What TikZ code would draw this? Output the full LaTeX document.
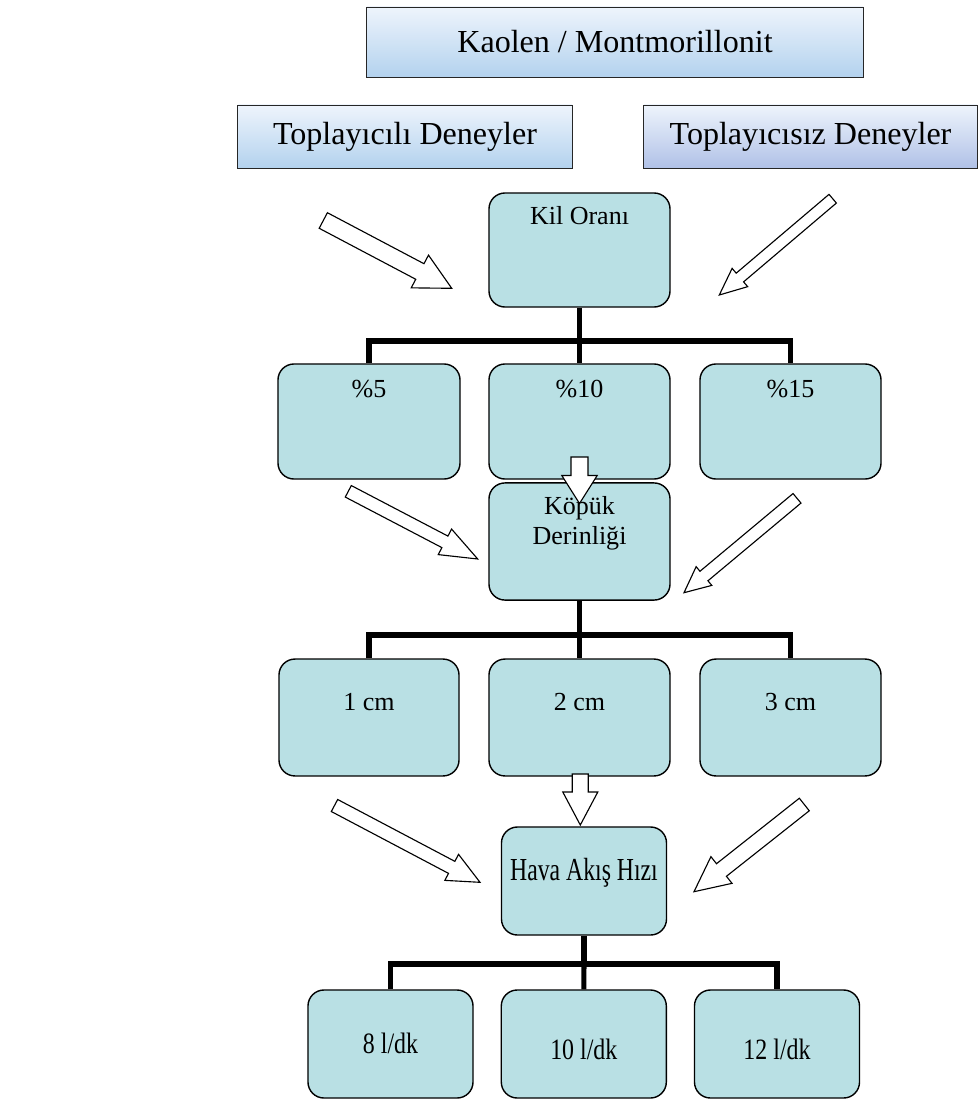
\documentclass[tikz,border=0pt]{standalone}
\usepackage{fontspec}
\setmainfont{Liberation Serif}
\usepackage{graphicx}
\usetikzlibrary{calc}
\definecolor{ClayTeal}{HTML}{B9E0E4}
\definecolor{SkyTop}{HTML}{EEF4FC}
\definecolor{SkyBottom}{HTML}{B3D2EE}
\definecolor{LilacBottom}{HTML}{B0C1E7}
\newcommand{\blockarrow}[5]{%
  \coordinate (neck) at ($(#2)!#5!(#1)$);
  \draw[hollow] ($(#1)!#3!90:(#2)$) -- ($(neck)!#3!90:(#2)$) -- ($(neck)!#4!90:(#2)$) -- (#2)
    -- ($(neck)!#4!-90:(#2)$) -- ($(neck)!#3!-90:(#2)$) -- ($(#1)!#3!-90:(#2)$) -- cycle;}

\begin{document}
\begin{tikzpicture}[x=0.025cm, y=-0.025cm,
  head/.style={draw=black!85, line width=0.7pt, top color=SkyTop, bottom color=SkyBottom,
               inner sep=0pt, minimum height=1.575cm, font=\fontsize{22.8}{26}\selectfont},
  box/.style={draw, line width=1pt, rounded corners=0.4cm, fill=ClayTeal,
              inner sep=0pt, font=\fontsize{18.5}{21.3}\selectfont},
  slim/.style={font=\fontsize{21}{24}\selectfont},
  trunk/.style={line width=3.6pt},
  hollow/.style={draw, fill=white, line width=0.8pt, line join=miter}]
  \useasboundingbox (0,0) rectangle (979,1099);

  \node[head, minimum width=12.4cm, minimum height=1.75cm] (clay) at (615,42) {Kaolen / Montmorillonit};
  \node[head, minimum width=8.35cm] (with) at (405,136.5) {Toplayıcılı Deneyler};
  \node[head, minimum width=8.325cm, bottom color=LilacBottom] (without) at (810.5,136.5) {Toplayıcısız Deneyler};

  \node[box, minimum width=4.525cm, text height=0.8cm, text depth=2.05cm] (kil) at (579.5,250) {Kil Oranı};
  \node[box, minimum width=4.55cm, text height=0.825cm, text depth=2.05cm] (p5) at (369,421.5) {\%5};
  \node[box, minimum width=4.525cm, text height=0.825cm, text depth=2.05cm] (p10) at (579.5,421.5) {\%10};
  \node[box, minimum width=4.525cm, text height=0.825cm, text depth=2.05cm] (p15) at (790.5,421.5) {\%15};

  \node[box, minimum width=4.525cm, text height=0.79cm, text depth=2.1375cm] (foam) at (579.5,541.5)
    {\begin{tabular}[t]{@{}c@{}}Köpük\\Derinliği\end{tabular}};
  \node[box, minimum width=4.5cm, text height=1.29cm, text depth=1.6325cm] (cm1) at (369,717.5) {1 cm};
  \node[box, minimum width=4.525cm, text height=1.29cm, text depth=1.6325cm] (cm2) at (579.5,717.5) {2 cm};
  \node[box, minimum width=4.525cm, text height=1.29cm, text depth=1.6325cm] (cm3) at (790.5,717.5) {3 cm};

  \node[box, minimum width=4.125cm, text height=1.325cm, text depth=1.375cm] (air) at (584,881)
    {\fontsize{22.8}{26}\selectfont\scalebox{0.74}[1]{Hava Akış Hızı}};
  \node[box, slim, minimum width=4.125cm, text height=1.575cm, text depth=1.125cm] (l8) at (390.5,1044) {\scalebox{0.81}[1]{8 l/dk}};
  \node[box, slim, minimum width=4.125cm, text height=1.725cm, text depth=0.975cm] (l10) at (583.8,1044) {\scalebox{0.81}[1]{10 l/dk}};
  \node[box, slim, minimum width=4.125cm, text height=1.725cm, text depth=0.975cm] (l12) at (777,1044) {\scalebox{0.81}[1]{12 l/dk}};

  \coordinate (b1) at (579.5,341);
  \coordinate (b2) at (579.5,635);
  \coordinate (b3) at (584,964);
  \draw[trunk] (kil.south) -- (b1);
  \draw[trunk] (p5.north) |- (b1) -| (p15.north);
  \draw[trunk] (b1) -- (p10.north);
  \draw[trunk] (foam.south) -- (b2);
  \draw[trunk] (cm1.north) |- (b2) -| (cm3.north);
  \draw[trunk] (b2) -- (cm2.north);
  \draw[trunk] (air.south) -- (b3);
  \draw[trunk] (l8.north) |- (b3) -| (l12.north);
  \draw[trunk] (b3) -- (l10.north);

  \coordinate (a1s) at (323.3,220.5);  \coordinate (a1e) at (451.7,288.3);
  \coordinate (a2s) at (832.7,198.7);  \coordinate (a2e) at (719.3,295);
  \coordinate (a3s) at (348.3,491.3);  \coordinate (a3e) at (477.7,559);
  \coordinate (a4s) at (797,498.3);    \coordinate (a4e) at (684,592.7);
  \coordinate (a5s) at (334.5,805.5);  \coordinate (a5e) at (480,882.3);
  \coordinate (a6s) at (804.3,804.5);  \coordinate (a6e) at (694,891.7);
  \coordinate (d1s) at (579.5,457);    \coordinate (d1e) at (579.5,503.5);
  \coordinate (d2s) at (580.3,774);    \coordinate (d2e) at (580.3,825);
  \blockarrow{a1s}{a1e}{0.22cm}{0.4625cm}{0.9cm}
  \blockarrow{a2s}{a2e}{0.1425cm}{0.3cm}{0.675cm}
  \blockarrow{a3s}{a3e}{0.1625cm}{0.36cm}{0.925cm}
  \blockarrow{a4s}{a4e}{0.155cm}{0.305cm}{0.65cm}
  \blockarrow{a5s}{a5e}{0.17cm}{0.3675cm}{0.8cm}
  \blockarrow{a6s}{a6e}{0.2cm}{0.425cm}{0.875cm}
  \blockarrow{d1s}{d1e}{0.2125cm}{0.4425cm}{0.7cm}
  \blockarrow{d2s}{d2e}{0.2cm}{0.4375cm}{0.825cm}
\end{tikzpicture}
\end{document}
